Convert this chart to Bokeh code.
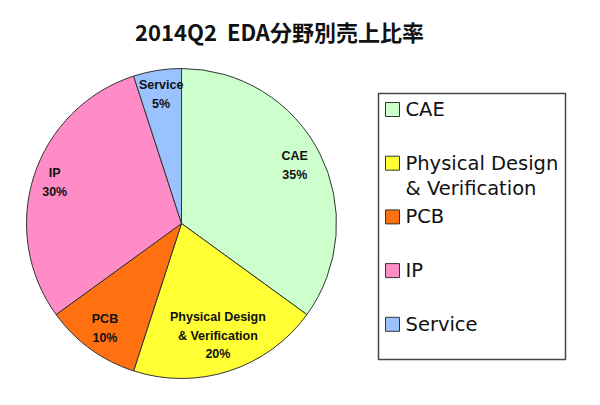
import math
from bokeh.plotting import figure
from bokeh.models import Range1d
from bokeh.core.properties import value
from bokeh.embed import file_html
from bokeh.resources import INLINE

title_text = "2014Q2\u00a0\u00a0EDA分野別売上比率"
categories = ["CAE", "Physical Design\n& Verification", "PCB", "IP", "Service"]
shares = [35, 20, 10, 30, 5]
colors = ["#CCFFCC", "#FFFF33", "#FF7010", "#FF8CC6", "#99C2FF"]

W, H = 600, 405
p = figure(width=W, height=H, x_range=Range1d(0, W), y_range=Range1d(0, H),
           output_backend="svg", toolbar_location=None, min_border=0)
p.axis.visible = False
p.grid.visible = False
p.outline_line_color = None
p.background_fill_color = "white"

def Y(ypix):
    return H - ypix

cx, cy, R = 181, 223, 155
total = sum(shares)
starts, ends, mids = [], [], []
cum = 0.0
for s in shares:
    a0 = math.pi / 2 - 2 * math.pi * cum / total
    cum += s
    a1 = math.pi / 2 - 2 * math.pi * cum / total
    starts.append(a1)
    ends.append(a0)
    mids.append((a0 + a1) / 2)

p.wedge(x=[cx] * len(shares), y=[Y(cy)] * len(shares), radius=R,
        start_angle=starts, end_angle=ends, fill_color=colors,
        line_color="#333333", line_width=1)

# slice labels
rfac = [0.82, 0.76, 0.84, 0.86, 0.84]
lx, ly, lt = [], [], []
for i, (c, s) in enumerate(zip(categories, shares)):
    r = R * rfac[i]
    lx.append(cx + r * math.cos(mids[i]))
    ly.append(Y(cy) + r * math.sin(mids[i]))
    lt.append(f"{c}\n{s}%")
p.text(x=lx, y=ly, text=lt, text_align="center", text_baseline="middle",
       text_font=value("Liberation Sans"), text_font_style="bold",
       text_font_size="12.5px", text_color="#111111", text_line_height=1.35)

# title
p.text(x=[279], y=[Y(30)], text=[title_text], text_align="center",
       text_baseline="middle", text_font=value("Noto Sans CJK JP"),
       text_font_style="bold", text_font_size="22px", text_color="#111111")

# legend
p.quad(left=[378], right=[565], top=[Y(93)], bottom=[Y(359)],
       fill_color="white", line_color="#444444", line_width=1.5)
row0, step, lh = 109, 53.7, 25
sq_x, sq_y, tx, ty, tt = [], [], [], [], []
for i, c in enumerate(categories):
    yy = row0 + step * i
    sq_x.append(392)
    sq_y.append(Y(yy))
    for j, line in enumerate(c.split("\n")):
        tx.append(405)
        ty.append(Y(yy + j * lh))
        tt.append(line)
p.rect(x=sq_x, y=sq_y, width=14, height=14, fill_color=colors,
       line_color="#333333", line_width=1)
p.text(x=tx, y=ty, text=tt, text_align="left", text_baseline="middle",
       text_font=value("DejaVu Sans"), text_font_size="19.5px",
       text_color="#111111")

open("out.html", "w").write(file_html(p, INLINE))
